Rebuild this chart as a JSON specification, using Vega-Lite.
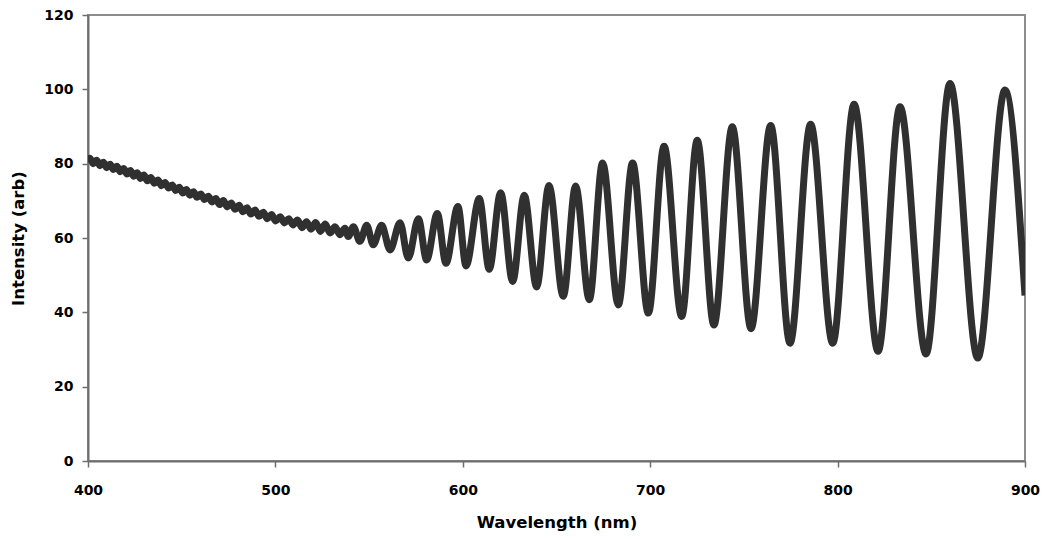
{
  "$schema": "https://vega.github.io/schema/vega-lite/v6.json",
  "width": 937,
  "height": 446,
  "autosize": {"type": "none"},
  "padding": {"left": 88, "top": 15, "right": 19, "bottom": 78},
  "background": "white",
  "config": {
    "view": {"stroke": "#8c8c8c", "strokeWidth": 2},
    "axis": {
      "labelFont": "DejaVu Sans",
      "labelFontWeight": "bold",
      "labelFontSize": 14,
      "labelColor": "#000000",
      "titleFont": "DejaVu Sans",
      "titleFontWeight": "bold",
      "titleFontSize": 16.5,
      "titleColor": "#000000",
      "domainColor": "#6e6e6e",
      "domainWidth": 2,
      "tickColor": "#6e6e6e",
      "tickWidth": 1.5,
      "tickSize": 6,
      "grid": false
    }
  },
  "data": {
    "values": [
      {"wavelength": 400.0, "intensity": 80.6},
      {"wavelength": 401.0, "intensity": 81.45},
      {"wavelength": 402.8, "intensity": 79.99},
      {"wavelength": 404.6, "intensity": 80.93},
      {"wavelength": 406.4, "intensity": 79.46},
      {"wavelength": 408.2, "intensity": 80.4},
      {"wavelength": 410.0, "intensity": 78.93},
      {"wavelength": 411.8, "intensity": 79.87},
      {"wavelength": 413.6, "intensity": 78.41},
      {"wavelength": 415.4, "intensity": 79.33},
      {"wavelength": 417.2, "intensity": 77.83},
      {"wavelength": 419.0, "intensity": 78.73},
      {"wavelength": 420.8, "intensity": 77.23},
      {"wavelength": 422.6, "intensity": 78.13},
      {"wavelength": 424.4, "intensity": 76.63},
      {"wavelength": 426.2, "intensity": 77.53},
      {"wavelength": 428.0, "intensity": 76.03},
      {"wavelength": 429.8, "intensity": 76.93},
      {"wavelength": 431.6, "intensity": 75.42},
      {"wavelength": 433.5, "intensity": 76.29},
      {"wavelength": 435.4, "intensity": 74.76},
      {"wavelength": 437.3, "intensity": 75.62},
      {"wavelength": 439.2, "intensity": 74.09},
      {"wavelength": 441.1, "intensity": 74.96},
      {"wavelength": 443.0, "intensity": 73.43},
      {"wavelength": 444.9, "intensity": 74.29},
      {"wavelength": 446.8, "intensity": 72.76},
      {"wavelength": 448.7, "intensity": 73.63},
      {"wavelength": 450.6, "intensity": 72.11},
      {"wavelength": 452.5, "intensity": 73.02},
      {"wavelength": 454.4, "intensity": 71.53},
      {"wavelength": 456.3, "intensity": 72.43},
      {"wavelength": 458.2, "intensity": 70.94},
      {"wavelength": 460.2, "intensity": 71.84},
      {"wavelength": 462.2, "intensity": 70.33},
      {"wavelength": 464.2, "intensity": 71.22},
      {"wavelength": 466.2, "intensity": 69.71},
      {"wavelength": 468.2, "intensity": 70.6},
      {"wavelength": 470.2, "intensity": 69.0},
      {"wavelength": 472.2, "intensity": 70.08},
      {"wavelength": 474.3, "intensity": 68.36},
      {"wavelength": 476.4, "intensity": 69.43},
      {"wavelength": 478.5, "intensity": 67.71},
      {"wavelength": 480.6, "intensity": 68.78},
      {"wavelength": 482.7, "intensity": 67.06},
      {"wavelength": 484.8, "intensity": 68.13},
      {"wavelength": 486.9, "intensity": 66.43},
      {"wavelength": 489.1, "intensity": 67.53},
      {"wavelength": 491.3, "intensity": 65.82},
      {"wavelength": 493.5, "intensity": 66.91},
      {"wavelength": 495.7, "intensity": 65.2},
      {"wavelength": 497.9, "intensity": 66.29},
      {"wavelength": 500.2, "intensity": 64.58},
      {"wavelength": 502.5, "intensity": 65.72},
      {"wavelength": 504.8, "intensity": 64.06},
      {"wavelength": 507.1, "intensity": 65.2},
      {"wavelength": 509.4, "intensity": 63.53},
      {"wavelength": 511.8, "intensity": 64.86},
      {"wavelength": 514.2, "intensity": 62.79},
      {"wavelength": 516.6, "intensity": 64.37},
      {"wavelength": 519.0, "intensity": 62.38},
      {"wavelength": 521.5, "intensity": 64.18},
      {"wavelength": 524.0, "intensity": 61.78},
      {"wavelength": 526.6, "intensity": 63.77},
      {"wavelength": 529.2, "intensity": 61.36},
      {"wavelength": 531.8, "intensity": 63.0},
      {"wavelength": 534.5, "intensity": 60.9},
      {"wavelength": 537.1, "intensity": 62.6},
      {"wavelength": 538.9, "intensity": 60.4},
      {"wavelength": 541.6, "intensity": 63.0},
      {"wavelength": 545.1, "intensity": 59.1},
      {"wavelength": 548.7, "intensity": 63.4},
      {"wavelength": 552.2, "intensity": 58.2},
      {"wavelength": 556.7, "intensity": 63.4},
      {"wavelength": 561.2, "intensity": 56.8},
      {"wavelength": 566.5, "intensity": 64.1},
      {"wavelength": 570.9, "intensity": 54.6},
      {"wavelength": 576.3, "intensity": 65.2},
      {"wavelength": 580.7, "intensity": 54.1},
      {"wavelength": 586.4, "intensity": 66.6},
      {"wavelength": 591.0, "intensity": 53.2},
      {"wavelength": 597.4, "intensity": 68.5},
      {"wavelength": 601.7, "intensity": 52.5},
      {"wavelength": 608.8, "intensity": 70.6},
      {"wavelength": 614.1, "intensity": 51.6},
      {"wavelength": 620.2, "intensity": 72.2},
      {"wavelength": 626.6, "intensity": 48.3},
      {"wavelength": 632.8, "intensity": 71.5},
      {"wavelength": 639.4, "intensity": 46.8},
      {"wavelength": 646.0, "intensity": 74.1},
      {"wavelength": 653.6, "intensity": 44.3},
      {"wavelength": 660.2, "intensity": 74.0},
      {"wavelength": 667.5, "intensity": 43.4},
      {"wavelength": 674.6, "intensity": 80.2},
      {"wavelength": 683.0, "intensity": 42.0},
      {"wavelength": 690.6, "intensity": 80.2},
      {"wavelength": 699.0, "intensity": 39.8},
      {"wavelength": 707.4, "intensity": 84.7},
      {"wavelength": 716.8, "intensity": 38.9},
      {"wavelength": 725.1, "intensity": 86.3},
      {"wavelength": 734.0, "intensity": 36.6},
      {"wavelength": 743.8, "intensity": 89.9},
      {"wavelength": 753.8, "intensity": 35.6},
      {"wavelength": 764.3, "intensity": 90.3},
      {"wavelength": 774.6, "intensity": 31.7},
      {"wavelength": 785.6, "intensity": 90.6},
      {"wavelength": 797.4, "intensity": 31.7},
      {"wavelength": 808.8, "intensity": 96.0},
      {"wavelength": 821.6, "intensity": 29.5},
      {"wavelength": 833.3, "intensity": 95.3},
      {"wavelength": 847.2, "intensity": 28.8},
      {"wavelength": 860.0, "intensity": 101.6},
      {"wavelength": 874.8, "intensity": 27.7},
      {"wavelength": 889.3, "intensity": 99.8},
      {"wavelength": 900.0, "intensity": 44.5}
    ]
  },
  "mark": {
    "type": "line",
    "color": "#303030",
    "strokeWidth": 7,
    "interpolate": "monotone",
    "clip": true
  },
  "encoding": {
    "x": {
      "field": "wavelength",
      "type": "quantitative",
      "scale": {"domain": [400, 900], "nice": false, "zero": false},
      "axis": {
        "title": "Wavelength (nm)",
        "values": [400, 500, 600, 700, 800, 900],
        "labelPadding": 16,
        "titleY": 61,
        "titleBaseline": "middle",
        "labelFlush": false
      }
    },
    "y": {
      "field": "intensity",
      "type": "quantitative",
      "scale": {"domain": [0, 120], "nice": false},
      "axis": {
        "title": "Intensity (arb)",
        "values": [0, 20, 40, 60, 80, 100, 120],
        "labelPadding": 9,
        "titleX": -70,
        "titleBaseline": "middle"
      }
    }
  }
}
